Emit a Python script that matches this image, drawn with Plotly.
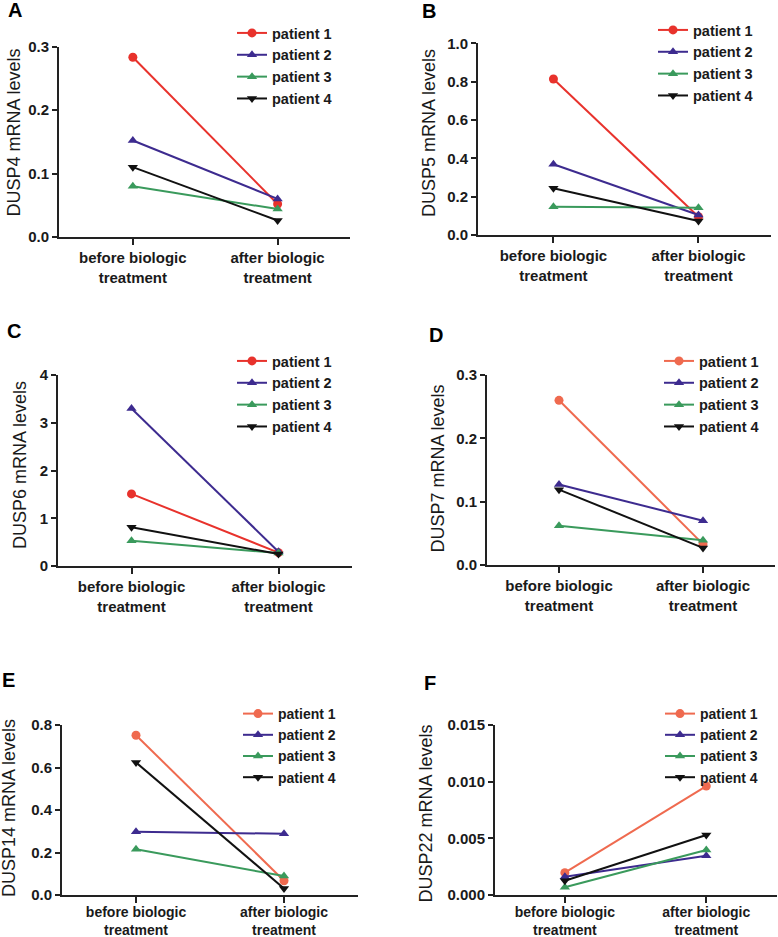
import plotly.graph_objects as go

W, H = 778, 937

categories = ["before biologic<br>treatment", "after biologic<br>treatment"]
patients = ["patient 1", "patient 2", "patient 3", "patient 4"]

# values per gene: one entry per patient (1..4)
dusp4_before = [0.283, 0.152, 0.080, 0.110]
dusp4_after = [0.052, 0.060, 0.044, 0.026]
dusp5_before = [0.814, 0.369, 0.148, 0.244]
dusp5_after = [0.095, 0.104, 0.142, 0.073]
dusp6_before = [1.51, 3.30, 0.53, 0.81]
dusp6_after = [0.28, 0.30, 0.27, 0.25]
dusp7_before = [0.260, 0.127, 0.062, 0.119]
dusp7_after = [0.033, 0.070, 0.039, 0.027]
dusp14_before = [0.752, 0.298, 0.215, 0.624]
dusp14_after = [0.067, 0.288, 0.089, 0.031]
dusp22_before = [0.00197, 0.00161, 0.00068, 0.00126]
dusp22_after = [0.00961, 0.00347, 0.00397, 0.00529]

gene_names = ["DUSP4", "DUSP5", "DUSP6", "DUSP7", "DUSP14", "DUSP22"]
panel_letters = ["A", "B", "C", "D", "E", "F"]
y_tickvals = [
    [0, 0.1, 0.2, 0.3],
    [0, 0.2, 0.4, 0.6, 0.8, 1.0],
    [0, 1, 2, 3, 4],
    [0, 0.1, 0.2, 0.3],
    [0, 0.2, 0.4, 0.6, 0.8],
    [0, 0.005, 0.010, 0.015],
]
y_tickformats = [".1f", ".1f", "d", ".1f", ".1f", ".3f"]

befores = [dusp4_before, dusp5_before, dusp6_before, dusp7_before, dusp14_before, dusp22_before]
afters = [dusp4_after, dusp5_after, dusp6_after, dusp7_after, dusp14_after, dusp22_after]

FONT = "Liberation Sans, Arial, sans-serif"
red_a = "#e8322c"
red_b = "#ef6a4f"
purple = "#3d2b8f"
green = "#3a9a5c"
black = "#111111"
symbols = ["circle", "triangle-up", "triangle-up", "triangle-down"]

# pixel geometry: (x0, x1, ytop, ybottom, xrange)
geo = [
    (59, 350, 46.5, 237, [-0.51, 1.5]),
    (478, 771, 43.3, 235, [-0.52, 1.5]),
    (58, 352, 375, 566, [-0.5, 1.5]),
    (487, 775, 375, 565, [-0.5, 1.5]),
    (62, 358, 725, 895, [-0.5, 1.5]),
    (495, 777, 725, 895, [-0.494, 1.5]),
]
legend_pos = [(232, 17), (653, 14), (232, 345), (659, 345), (238, 698), (660, 698)]
legend_fs = [14.5, 14.5, 14.5, 14.5, 14, 14]
xtick_fs = [15, 15, 15, 15, 14, 14]
xtick_standoff = [0, 0, 0, 0, -3, -3]
title_pos = [(13.5, 133), (429, 133), (20, 465), (437.5, 469), (9, 808), (425.5, 814)]
letter_pos = [(14.5, 10), (428.5, 11), (13.5, 331), (436, 335), (8.5, 680), (430, 683)]

fig = go.Figure()
annotations = []
for i in range(6):
    k = "" if i == 0 else str(i + 1)
    x0, x1, yt, yb, xr = geo[i]
    colors = [red_a if i < 3 else red_b, purple, green, black]
    lg = "legend" + k
    for p in range(4):
        fig.add_trace(go.Scatter(
            x=categories, y=[befores[i][p], afters[i][p]],
            mode="lines+markers", name=patients[p],
            line=dict(color=colors[p], width=2),
            marker=dict(symbol=symbols[p], size=9, color=colors[p]),
            xaxis="x" + k, yaxis="y" + k, legend=lg, showlegend=True,
        ))
    ymax = y_tickvals[i][-1]
    fig.layout["xaxis" + k] = dict(
        domain=[x0 / W, x1 / W], anchor="y" + k, type="category",
        range=xr, showline=True, linewidth=2, linecolor="#222",
        ticks="outside", ticklen=6, tickwidth=2, tickcolor="#222",
        showgrid=False, zeroline=False, automargin=False,
        ticklabelstandoff=xtick_standoff[i],
        tickfont=dict(family=FONT, size=xtick_fs[i], color="#1a1a1a", weight="bold"),
    )
    fig.layout["yaxis" + k] = dict(
        domain=[1 - yb / H, 1 - yt / H], anchor="x" + k,
        range=[0, ymax], showline=True, linewidth=2, linecolor="#222",
        ticks="outside", ticklen=5, tickwidth=2, tickcolor="#222",
        showgrid=False, zeroline=False, tickvals=y_tickvals[i],
        tickformat=y_tickformats[i], automargin=False,
        tickfont=dict(family=FONT, size=15, color="#1a1a1a", weight="bold"),
    )
    lx, ly = legend_pos[i]
    fig.layout[lg] = dict(
        x=lx / W, y=1 - ly / H, xanchor="left", yanchor="top",
        bgcolor="rgba(0,0,0,0)", borderwidth=0,
        font=dict(family=FONT, size=legend_fs[i], color="#1a1a1a", weight="bold"),
        tracegroupgap=0, itemclick=False,
    )
    tx, ty = title_pos[i]
    annotations.append(dict(
        x=tx / W, y=1 - ty / H, xref="paper", yref="paper",
        text=gene_names[i] + " mRNA levels", showarrow=False, textangle=-90,
        font=dict(family=FONT, size=18, color="#1a1a1a"),
        xanchor="center", yanchor="middle",
    ))
    cx, cy = letter_pos[i]
    annotations.append(dict(
        x=cx / W, y=1 - cy / H, xref="paper", yref="paper",
        text="<b>" + panel_letters[i] + "</b>", showarrow=False,
        font=dict(family=FONT, size=20, color="#000"),
        xanchor="center", yanchor="middle",
    ))

fig.update_layout(
    width=W, height=H, margin=dict(l=0, r=0, t=0, b=0, autoexpand=False),
    paper_bgcolor="white", plot_bgcolor="white",
    annotations=annotations, showlegend=True,
)
fig.write_html(
    "out.html",
    config={"displayModeBar": False},
    post_script="document.body.style.margin='0';document.body.style.overflow='hidden';",
)
